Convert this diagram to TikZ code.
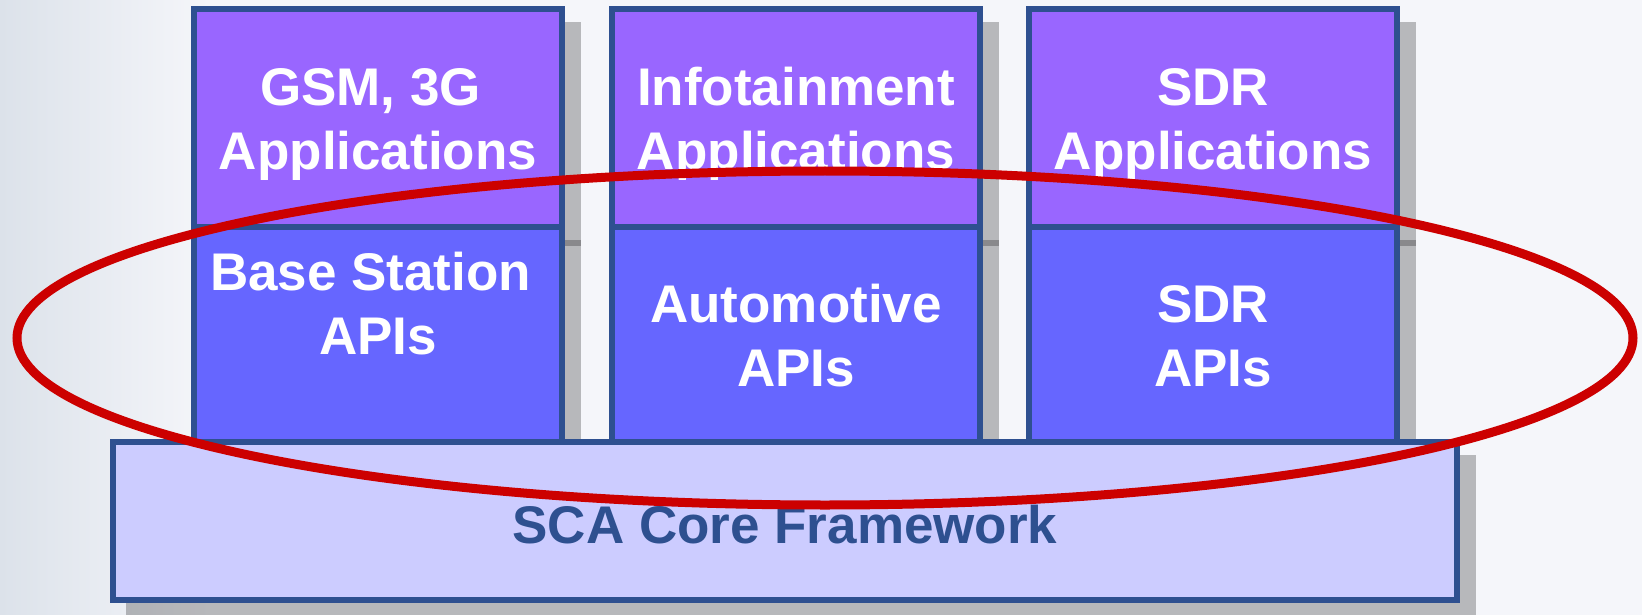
\documentclass[tikz,border=0pt]{standalone}
\usepackage{fontspec}
\setmainfont{Liberation Sans}
\definecolor{bordc}{RGB}{46,80,144}
\definecolor{appc}{HTML}{9966FF}
\definecolor{apic}{HTML}{6666FF}
\definecolor{fwc}{HTML}{CCCCFF}
\definecolor{ringc}{HTML}{CC0000}
\definecolor{bgc}{HTML}{F5F6FA}
\definecolor{bgl}{HTML}{DCE2EA}
\begin{document}
\begin{tikzpicture}[x=1pt,y=-1pt,
  box/.style={draw=bordc,line width=6pt,inner sep=0pt},
  appbox/.style={box,fill=appc,minimum width=368pt,minimum height=218pt},
  apibox/.style={box,fill=apic,minimum width=368pt,minimum height=215pt},
  fwbox/.style={box,fill=fwc,minimum width=1344pt,minimum height=158pt},
  shadowbox/.style={fill=black,opacity=0.25},
  lbl/.style={anchor=base,inner sep=0pt,text=white,font=\fontsize{53}{64}\selectfont\bfseries},
  ring/.style={draw=ringc,line width=9pt}]
\useasboundingbox (0,0) rectangle (1642,615);
% background
\fill[bgc] (0,0) rectangle (1642,615);
\shade[left color=bgl,right color=bgc] (0,0) rectangle (210,615);
% shadows
\fill[shadowbox] (207,22) rectangle (581,246);
\fill[shadowbox] (207,240) rectangle (581,461);
\fill[shadowbox] (625,22) rectangle (999,246);
\fill[shadowbox] (625,240) rectangle (999,461);
\fill[shadowbox] (1042,22) rectangle (1416,246);
\fill[shadowbox] (1042,240) rectangle (1416,461);
\fill[shadowbox] (126,455) rectangle (1476,619);
% boxes
\node[apibox] (api1) at (378,334.5) {};
\node[apibox] (api2) at (796,334.5) {};
\node[apibox] (api3) at (1213,334.5) {};
\node[appbox] (app1) at (378,118) {};
\node[appbox] (app2) at (796,118) {};
\node[appbox] (app3) at (1213,118) {};
\node[fwbox] (fw) at (785,521) {};
% labels
\node[lbl] (tapp1) at (378,106) {\begin{tabular}[t]{@{}c@{}}GSM, 3G\kern0.28em\\Applications\end{tabular}};
\node[lbl] (tapp2) at (796,106) {\begin{tabular}[t]{@{}c@{}}Infotainment\\Applications\end{tabular}};
\node[lbl] (tapp3) at (1213,106) {\begin{tabular}[t]{@{}c@{}}SDR\\Applications\end{tabular}};
\node[lbl] (tapi1) at (378,290) {\begin{tabular}[t]{@{}c@{}}Base Station\kern0.28em\\APIs\end{tabular}};
\node[lbl] (tapi2) at (796,322) {\begin{tabular}[t]{@{}c@{}}Automotive\\APIs\end{tabular}};
\node[lbl] (tapi3) at (1213,322) {\begin{tabular}[t]{@{}c@{}}SDR\\APIs\end{tabular}};
\node[lbl,text=bordc] (tfw) at (785,543) {SCA Core Framework};
% ring
\draw[ring] (825,338) ellipse [x radius=808pt,y radius=167pt];
\end{tikzpicture}
\end{document}
